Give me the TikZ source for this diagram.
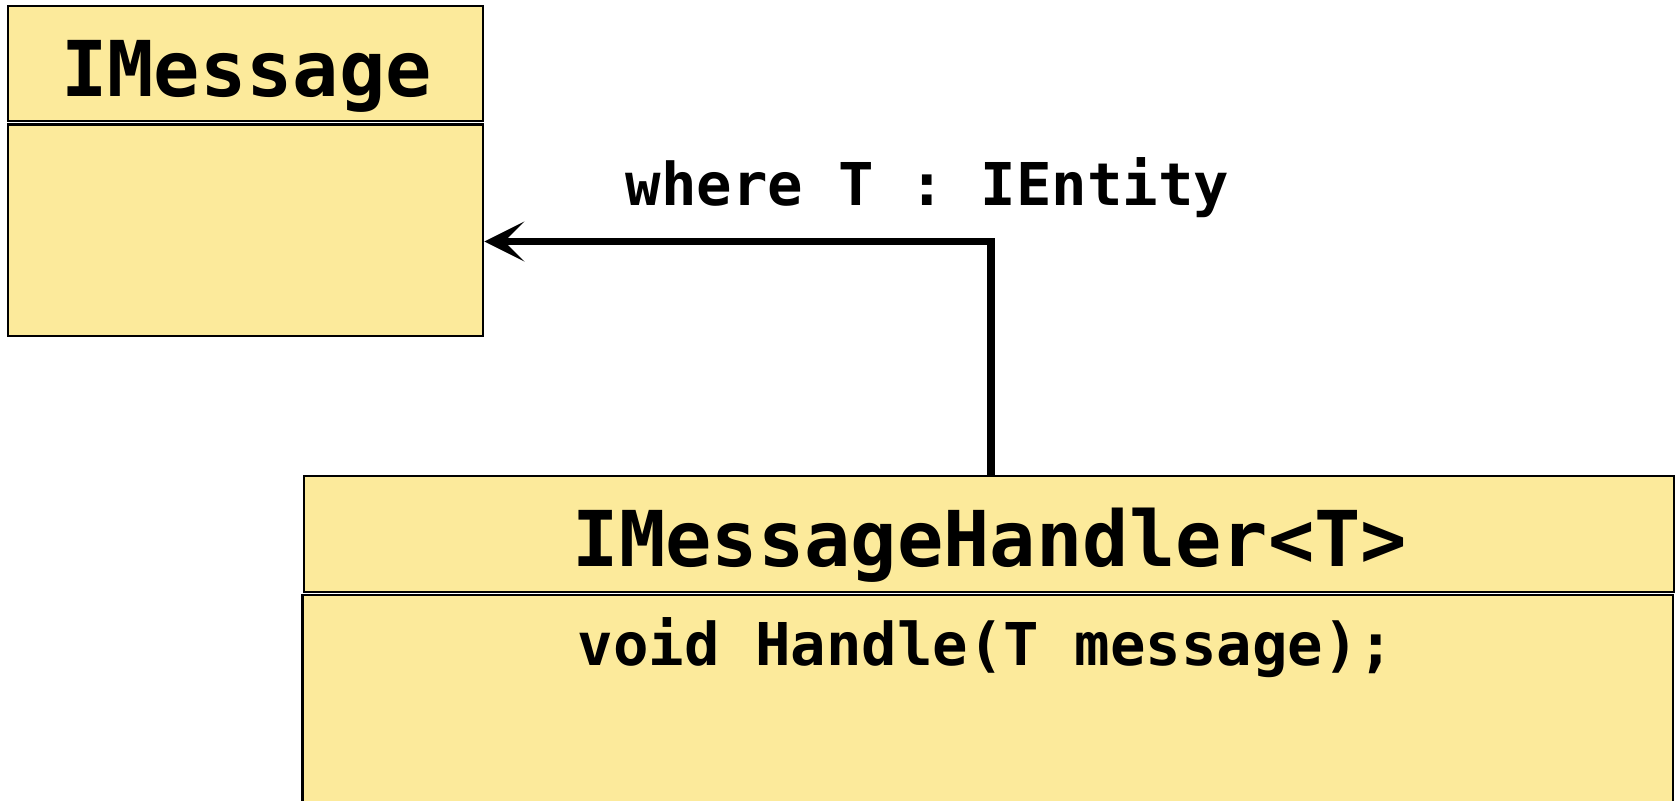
\documentclass[tikz,border=0pt]{standalone}
\usepackage{fontspec}
\usetikzlibrary{arrows.meta}
\newfontfamily\codefont{DejaVu Sans Mono}
\definecolor{umlfill}{RGB}{252,234,155}
\tikzset{
  umlbox/.style={draw=black, line width=1.4pt, fill=umlfill, rectangle, inner sep=0pt},
  bigtxt/.style={anchor=base, inner sep=0pt, font=\codefont\bfseries\fontsize{38.5pt}{40pt}\selectfont},
  smalltxt/.style={anchor=base, inner sep=0pt, font=\codefont\bfseries\fontsize{29.5pt}{31pt}\selectfont},
  conn/.style={line width=3.7pt, -{Stealth[length=20pt, width=20pt, inset=10pt]}}
}
\begin{document}
\begin{tikzpicture}[x=0.5pt, y=-0.5pt]
  \useasboundingbox (0,0) rectangle (1676,801);

  % IMessage interface
  \node[umlbox, minimum width=237.5pt, minimum height=57.5pt] (h1) at (245.5,63.5) {};
  \node[umlbox, minimum width=237.5pt, minimum height=105.75pt] (b1) at (245.5,230.25) {};
  \node[bigtxt] (t1) at (246.5,97) {IMessage};

  % IMessageHandler<T> interface
  \node[umlbox, minimum width=685pt, minimum height=58pt] (h2) at (989,534) {};
  \node[umlbox, minimum width=685.25pt, minimum height=117.5pt] (b2) at (987.75,712.5) {};
  \node[bigtxt] (t2) at (990,566.7) {IMessageHandler<T>};
  \node[smalltxt] (t3) at (986,666) {void Handle(T message);};

  % generic constraint label and connector
  \node[smalltxt] (lbl) at (927.5,206) {where T : IEntity};
  \coordinate (bend) at (991,241.5);
  \draw[conn] (h2.north -| bend) -- (bend) -- (b1.east |- bend);
\end{tikzpicture}
\end{document}
